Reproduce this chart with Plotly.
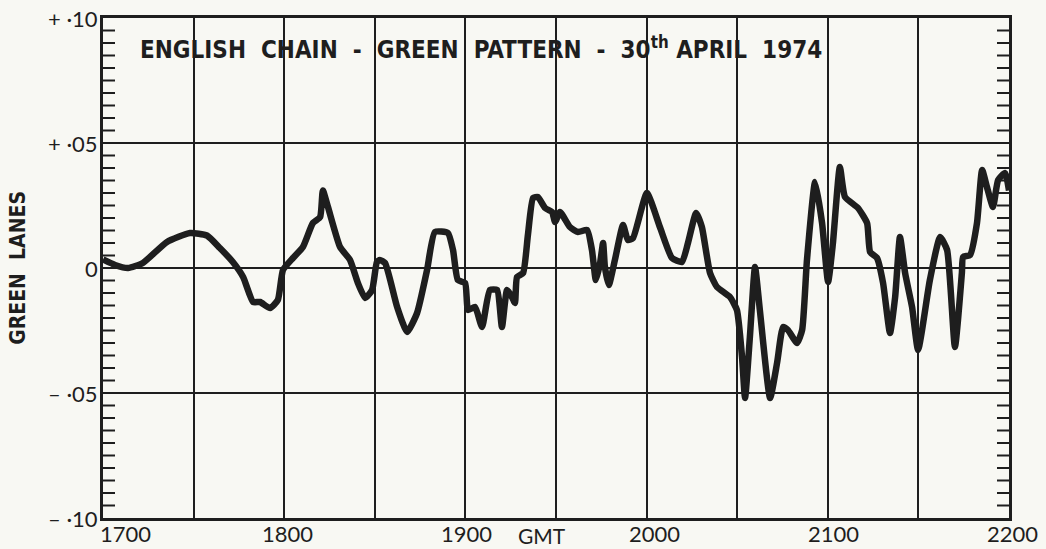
import numpy as np
import plotly.graph_objects as go

# Time in minutes after 1700 GMT and the green-lane error at that time
minutes = [0, 4, 8.3, 13.2, 21.2, 28.8, 34.4, 38.7, 43.0, 46.4, 49.7, 52.0, 55.3, 57.9,
           59.6, 62.9, 66.2, 69.5, 71.9, 72.8, 74.5, 78.5, 81.8, 84.4, 86.8, 89.1, 90.7,
           91.7, 93.4, 97.4, 100.7, 104.0, 107.3, 109.9, 114.2, 115.9, 117.5, 119.9,
           120.9, 123.2, 125.5, 128.1, 130.5, 132.1, 133.8, 135.4, 136.4, 137.1, 139.1,
           140.7, 142.4, 144.0, 146.4, 148.7, 149.7, 151.3, 154.6, 157.3, 160.3, 161.9,
           163.2, 164.6, 165.6, 166.2, 167.5, 169.5, 172.2, 173.8, 175.5, 180.1, 184.4,
           188.4, 191.7, 193.7, 196.4, 198.3, 201.0, 203.3, 207.6, 209.9, 211.6, 212.6,
           214.2, 215.9, 217.5, 220.9, 223.2, 225.2, 226.8, 229.8, 231.5, 233.1, 235.8,
           238.1, 240.1, 241.7, 244.0, 245.7, 250.0, 253.0, 254.0, 256.3, 258.3, 260.6,
           262.3, 263.9, 265.6, 267.9, 269.9, 273.8, 277.2, 279.5, 282.1, 284.4, 284.8,
           287.1, 289.4, 291.1, 292.7, 294.7, 296.4, 298.7, 300]
lanes = [0.0034, 0.0012, 0.0, 0.002, 0.0104, 0.014, 0.013, 0.008, 0.0024, -0.0036,
         -0.0136, -0.0136, -0.016, -0.0128, -0.0008, 0.004, 0.0084, 0.018, 0.0204, 0.031,
         0.0244, 0.0084, 0.0032, -0.006, -0.012, -0.0088, 0.0024, 0.0032, 0.002, -0.0156,
         -0.0256, -0.018, -0.0008, 0.0144, 0.014, 0.0072, -0.0048, -0.006, -0.0168,
         -0.0156, -0.0236, -0.0088, -0.0088, -0.0236, -0.0088, -0.0116, -0.014, -0.0036,
         -0.002, 0.0132, 0.028, 0.0284, 0.024, 0.0224, 0.0184, 0.0224, 0.0164, 0.0144,
         0.0152, 0.0072, -0.0048, 0.002, 0.01, 0.0004, -0.0068, 0.0032, 0.0172, 0.0112,
         0.012, 0.030, 0.0164, 0.004, 0.0024, 0.01, 0.022, 0.0164, -0.002, -0.0076,
         -0.0116, -0.0168, -0.0356, -0.052, -0.0276, 0.0004, -0.0168, -0.052, -0.038,
         -0.0236, -0.0248, -0.03, -0.0248, 0.0032, 0.0344, 0.018, -0.0056, 0.01, 0.0404,
         0.0284, 0.024, 0.018, 0.0064, 0.004, -0.006, -0.026, -0.0116, 0.0124, -0.002,
         -0.0156, -0.0328, -0.0048, 0.0124, 0.0072, -0.0316, -0.002, 0.0044, 0.0052,
         0.018, 0.0392, 0.0324, 0.0244, 0.0352, 0.038, 0.031]

x_tick_vals = [0, 60, 120, 180, 240, 300]
x_tick_text = ["1700", "1800", "1900", "2000", "2100", "2200"]
x_tick_shift = [22, 3, 1, 8, 6, 3]
y_tick_vals = [0.10, 0.05, 0.0, -0.05, -0.10]
y_tick_text = ["+ ·10", "+ ·05", "0", "– ·05", "– ·10"]

Y_MIN, Y_MAX = -0.10, 0.10
MINOR_STEP = 0.005
X_MIN, X_MAX = 0, 300
PLOT_W = 1046 - 103 - 37       # plot area width in px
TICK_MIN = 12 / PLOT_W * (X_MAX - X_MIN)   # tick length in minutes

INK = "#1e1e1e"
PAPER = "#f8f8f3"
label_font = dict(family="Lato, 'Noto Sans', sans-serif", size=22, color=INK)
bold_font = "'Liberation Sans Narrow', 'DejaVu Sans Condensed', 'Arial Narrow', sans-serif"

fig = go.Figure()
fig.add_trace(go.Scatter(
    x=minutes, y=lanes, mode="lines",
    line=dict(color=INK, width=6.5, shape="spline", smoothing=0.5),
    hoverinfo="skip", showlegend=False))

# small inward ticks every 0.005 on both vertical edges of the frame
shapes = []
for yv in np.arange(Y_MIN + MINOR_STEP, Y_MAX - MINOR_STEP / 2, MINOR_STEP):
    for x0, x1 in ((X_MIN, X_MIN + TICK_MIN), (X_MAX - TICK_MIN, X_MAX)):
        shapes.append(dict(type="line", xref="x", yref="y", x0=x0, x1=x1,
                           y0=float(yv), y1=float(yv), layer="above",
                           line=dict(color=INK, width=2)))

annotations = []
for v, t in zip(y_tick_vals, y_tick_text):
    annotations.append(dict(x=X_MIN, xref="x", y=v, yref="y", text=t, showarrow=False,
                            xanchor="right", yanchor="middle", xshift=-3, font=label_font))
for v, t, s in zip(x_tick_vals, x_tick_text, x_tick_shift):
    annotations.append(dict(x=v, xref="x", y=Y_MIN, yref="y", text=t, showarrow=False,
                            xanchor="center", yanchor="middle", yshift=-15, xshift=s,
                            font=label_font))
annotations.append(dict(x=0.484, xref="paper", y=0, yref="paper", text="GMT", showarrow=False,
                        xanchor="center", yanchor="middle", yshift=-17, font=dict(
                            family=label_font["family"], size=21, color=INK)))
annotations.append(dict(
    x=0.417, xref="paper", y=0.94, yref="paper", showarrow=False,
    text="<b>ENGLISH\u00a0\u00a0CHAIN\u00a0\u00a0-\u00a0\u00a0GREEN\u00a0\u00a0PATTERN\u00a0\u00a0-\u00a0\u00a030<sup>th</sup>\u00a0APRIL\u00a0\u00a01974</b>",
    xanchor="center", yanchor="middle", font=dict(family=bold_font, size=24, color=INK)))
annotations.append(dict(
    x=-0.094, xref="paper", y=0.5, yref="paper", showarrow=False, textangle=-90,
    text="<b>GREEN\u00a0\u00a0LANES</b>", xanchor="center", yanchor="middle",
    font=dict(family=bold_font, size=21, color=INK)))

fig.update_layout(
    width=1046, height=549,
    margin=dict(l=103, r=37, t=18, b=31),
    paper_bgcolor=PAPER, plot_bgcolor=PAPER,
    showlegend=False,
    annotations=annotations,
    shapes=shapes,
    xaxis=dict(range=[X_MIN, X_MAX], tickmode="linear", tick0=0, dtick=30,
               showgrid=True, gridcolor=INK, gridwidth=1.6,
               showticklabels=False, ticks="", zeroline=False,
               showline=True, linecolor=INK, linewidth=3, mirror=True),
    yaxis=dict(range=[Y_MIN, Y_MAX], tickmode="linear", tick0=0, dtick=0.05,
               showgrid=True, gridcolor=INK, gridwidth=1.8,
               showticklabels=False, zeroline=False, ticks="",
               showline=True, linecolor=INK, linewidth=3, mirror=True),
)

fig.write_html("out.html")
